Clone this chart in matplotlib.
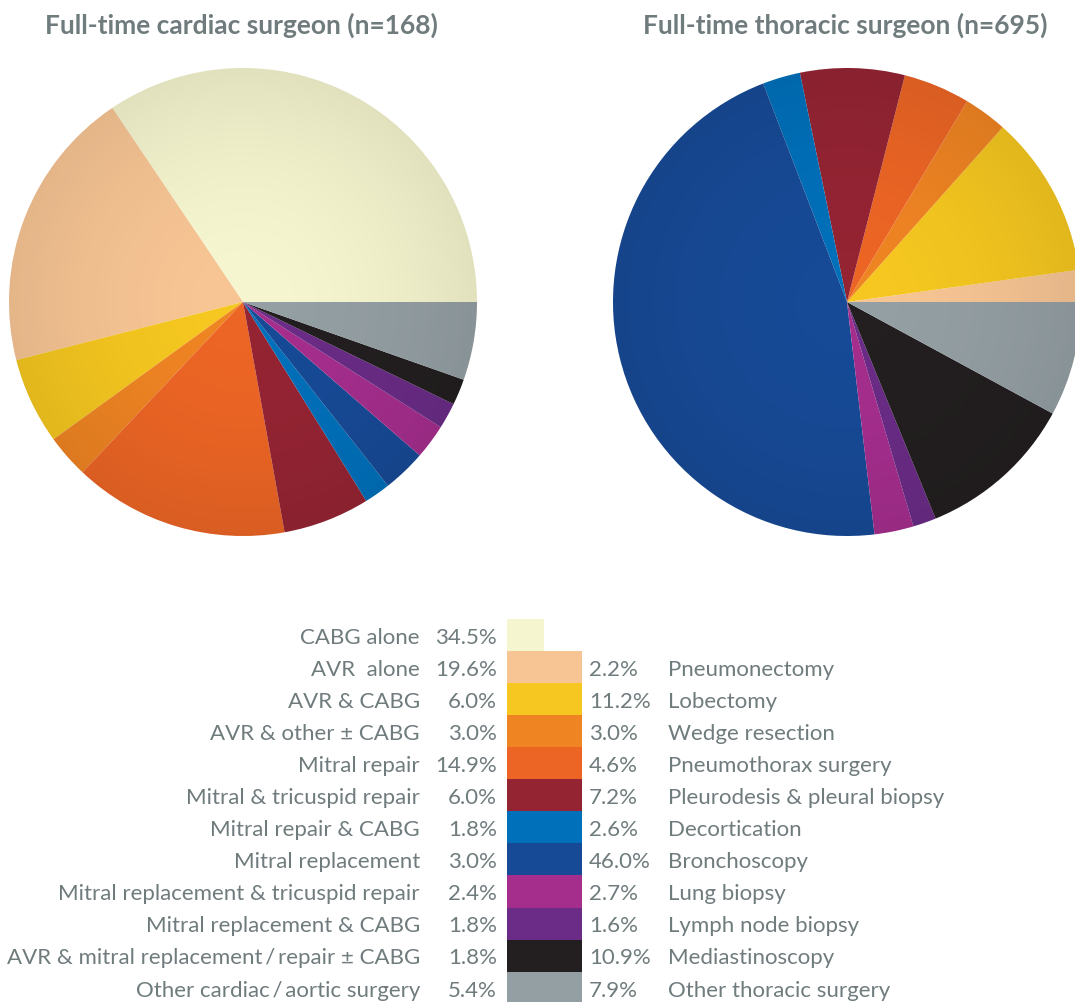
import numpy as np
import matplotlib
matplotlib.use("Agg")
import matplotlib.pyplot as plt
from matplotlib.patches import Circle

plt.rcParams['font.family'] = ['Lato', 'DejaVu Sans']

cardiac_labels = ["CABG alone", "AVR  alone", "AVR & CABG", "AVR & other \u00b1 CABG",
                  "Mitral repair", "Mitral & tricuspid repair", "Mitral repair & CABG",
                  "Mitral replacement", "Mitral replacement & tricuspid repair",
                  "Mitral replacement & CABG",
                  "AVR & mitral replacement\u2009/\u2009repair \u00b1 CABG",
                  "Other cardiac\u2009/\u2009aortic surgery"]
cardiac_values = [34.5, 19.6, 6.0, 3.0, 14.9, 6.0, 1.8, 3.0, 2.4, 1.8, 1.8, 5.4]

thoracic_labels = ["Pneumonectomy", "Lobectomy", "Wedge resection", "Pneumothorax surgery",
                   "Pleurodesis & pleural biopsy", "Decortication", "Bronchoscopy",
                   "Lung biopsy", "Lymph node biopsy", "Mediastinoscopy",
                   "Other thoracic surgery"]
thoracic_values = [2.2, 11.2, 3.0, 4.6, 7.2, 2.6, 46.0, 2.7, 1.6, 10.9, 7.9]

colors = ["#f5f5cf", "#f7c594", "#f5c720", "#ef8423", "#ec6525", "#952433",
          "#0070ba", "#174a96", "#a52e8d", "#6a2c86", "#231f20", "#949fa4"]
cardiac_colors = colors
thoracic_colors = colors[1:]

TXT = "#6f7b7d"
W, H = 1075, 1003
fig = plt.figure(figsize=(W / 100, H / 100), dpi=100)


def px_axes(x0, y0, x1, y1):
    return fig.add_axes([x0 / W, 1 - y1 / H, (x1 - x0) / W, (y1 - y0) / H])


def draw_pie(cx, cy, r, values, cols):
    ax = px_axes(cx - r, cy - r, cx + r, cy + r)
    ax.pie(values, colors=cols, startangle=0, counterclock=True,
           radius=1, wedgeprops=dict(linewidth=0))
    # subtle radial shading
    yy, xx = np.mgrid[-1:1:300j, -1:1:300j]
    rr = np.sqrt(xx ** 2 + yy ** 2)
    shade = np.zeros((300, 300, 4))
    shade[..., 3] = np.clip(rr, 0, 1) ** 2 * 0.08
    im = ax.imshow(shade, extent=(-1, 1, -1, 1), zorder=5)
    im.set_clip_path(Circle((0, 0), 1, transform=ax.transData))
    ax.set_xlim(-1, 1)
    ax.set_ylim(-1, 1)
    ax.set_aspect('auto')
    ax.axis('off')
    return ax


draw_pie(243, 303, 234, cardiac_values, cardiac_colors)
draw_pie(847, 303, 234, thoracic_values, thoracic_colors)

fig.text(241 / W, 1 - 25 / H, "Full-time cardiac surgeon (n=168)", ha='center',
         va='center', fontsize=19, fontweight='bold', color=TXT)
fig.text(845 / W, 1 - 25 / H, "Full-time thoracic surgeon (n=695)", ha='center',
         va='center', fontsize=19, fontweight='bold', color=TXT)

# legend axes in pixel coordinates
lax = fig.add_axes([0, 0, 1, 1])
lax.set_xlim(0, W)
lax.set_ylim(H, 0)
lax.axis('off')

row0, rowh = 636, 32.1
n = len(cardiac_labels)
ys = [row0 + rowh * i for i in range(n)]
widths = [37] + [75] * (n - 1)
lax.barh(ys, widths, left=507, height=rowh + 0.6, color=colors, linewidth=0)

fs = 16
ty = [y + 1.5 for y in ys]
for i, (lab, v) in enumerate(zip(cardiac_labels, cardiac_values)):
    lax.text(420, ty[i], lab, ha='right', va='center', fontsize=fs, color=TXT)
    lax.text(497, ty[i], f"{v:.1f}%", ha='right', va='center', fontsize=fs, color=TXT)
for j, (lab, v) in enumerate(zip(thoracic_labels, thoracic_values)):
    y = ty[j + 1]
    lax.text(589, y, f"{v:.1f}%", ha='left', va='center', fontsize=fs, color=TXT)
    lax.text(668, y, lab, ha='left', va='center', fontsize=fs, color=TXT)

fig.savefig("out.png", dpi=100)
